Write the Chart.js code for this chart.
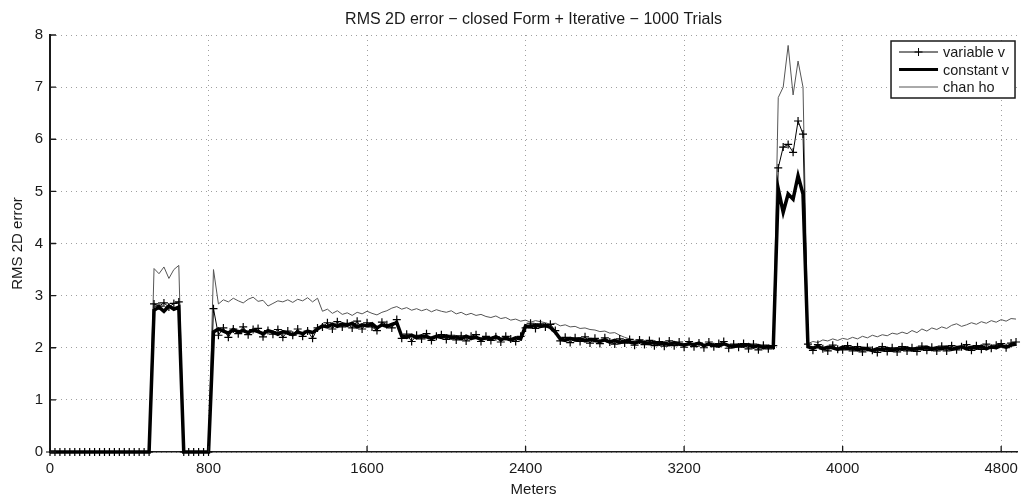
<!DOCTYPE html>
<html>
<head>
<meta charset="utf-8">
<title>RMS 2D error</title>
<script src="https://cdn.jsdelivr.net/npm/chart.js@4.4.1/dist/chart.umd.min.js"></script>
<style>
  html, body { margin: 0; padding: 0; background: #fff; }
  #wrap { width: 1026px; height: 500px; }
</style>
</head>
<body>
<div id="wrap"><canvas id="rmsChart" width="1026" height="500"></canvas></div>
<script>
// --- DATA (one sample every 25 m, 0 .. 4875 m) ---
const STEP = 25;
const xTicks = [0, 800, 1600, 2400, 3200, 4000, 4800];
const yTicks = [0, 1, 2, 3, 4, 5, 6, 7, 8];
const seriesNames = ['variable v', 'constant v', 'chan ho'];

const variableV = [
    0, 0, 0, 0, 0, 0, 0, 0, 0, 0, 0, 0, 0, 0, 0, 0, 0, 0, 0, 0,
    0, 2.84, 2.80, 2.86, 2.78, 2.85, 2.88, 0, 0, 0, 0, 0, 0, 2.75, 2.24, 2.38, 2.20, 2.36, 2.27, 2.40,
    2.25, 2.35, 2.37, 2.21, 2.33, 2.26, 2.35, 2.20, 2.32, 2.24, 2.36, 2.22, 2.32, 2.18, 2.38, 2.40, 2.48, 2.36, 2.50, 2.40,
    2.47, 2.38, 2.51, 2.36, 2.48, 2.40, 2.33, 2.49, 2.44, 2.38, 2.54, 2.18, 2.26, 2.12, 2.24, 2.17, 2.27, 2.14, 2.22, 2.25,
    2.16, 2.24, 2.15, 2.23, 2.13, 2.22, 2.25, 2.12, 2.22, 2.14, 2.21, 2.11, 2.22, 2.17, 2.12, 2.22, 2.38, 2.47, 2.37, 2.46,
    2.40, 2.45, 2.33, 2.13, 2.20, 2.10, 2.19, 2.12, 2.21, 2.09, 2.18, 2.08, 2.19, 2.11, 2.07, 2.17, 2.09, 2.16, 2.05, 2.15,
    2.06, 2.14, 2.04, 2.12, 2.03, 2.13, 2.04, 2.11, 2.01, 2.12, 2.02, 2.09, 2.00, 2.11, 2.02, 2.08, 2.12, 1.99, 2.07, 2.01,
    2.08, 1.98, 2.07, 1.96, 2.05, 1.98, 2.04, 5.45, 5.85, 5.90, 5.75, 6.35, 6.10, 2.07, 1.95, 2.06, 1.98, 1.94, 2.05, 1.97,
    1.96, 2.04, 1.94, 2.02, 1.92, 2.01, 1.95, 1.91, 2.02, 1.93, 2.00, 1.92, 2.02, 1.94, 2.00, 1.93, 2.03, 1.95, 2.01, 1.94,
    2.03, 1.94, 2.04, 1.96, 2.02, 2.06, 1.95, 2.04, 1.97, 2.07, 1.99, 2.05, 2.08, 2.00, 2.09, 2.11
];

const constantV = [
    0, 0, 0, 0, 0, 0, 0, 0, 0, 0, 0, 0, 0, 0, 0, 0, 0, 0, 0, 0,
    0, 2.72, 2.78, 2.70, 2.80, 2.74, 2.78, 0, 0, 0, 0, 0, 0, 2.30, 2.36, 2.32, 2.28, 2.35, 2.30, 2.33,
    2.29, 2.34, 2.31, 2.27, 2.33, 2.30, 2.26, 2.31, 2.28, 2.25, 2.30, 2.27, 2.32, 2.29, 2.36, 2.42, 2.40, 2.45, 2.41, 2.46,
    2.43, 2.47, 2.40, 2.44, 2.42, 2.46, 2.38, 2.44, 2.41, 2.45, 2.48, 2.22, 2.20, 2.24, 2.19, 2.23, 2.21, 2.18, 2.22, 2.20,
    2.23, 2.19, 2.21, 2.17, 2.22, 2.18, 2.20, 2.16, 2.19, 2.17, 2.21, 2.16, 2.18, 2.15, 2.19, 2.17, 2.42, 2.40, 2.44, 2.41,
    2.43, 2.39, 2.30, 2.17, 2.14, 2.18, 2.15, 2.17, 2.13, 2.16, 2.14, 2.12, 2.15, 2.11, 2.14, 2.10, 2.13, 2.11, 2.09, 2.12,
    2.10, 2.08, 2.11, 2.07, 2.09, 2.06, 2.10, 2.07, 2.05, 2.08, 2.06, 2.09, 2.04, 2.07, 2.05, 2.03, 2.08, 2.04, 2.02, 2.05,
    2.03, 2.06, 2.01, 2.04, 2.00, 2.03, 2.01, 5.05, 4.60, 4.95, 4.85, 5.30, 4.95, 2.02, 1.99, 2.03, 1.98, 2.01, 2.00, 1.97,
    2.01, 1.98, 2.00, 1.96, 1.99, 1.97, 1.95, 1.98, 1.96, 1.99, 1.95, 1.98, 1.97, 2.00, 1.96, 1.99, 1.98, 2.01, 1.97, 2.00,
    1.98, 2.01, 1.97, 2.00, 2.02, 1.98, 2.01, 1.99, 2.03, 1.98, 2.02, 2.00, 2.04, 2.01, 2.05, 2.07
];

const chanHo = [
    0, 0, 0, 0, 0, 0, 0, 0, 0, 0, 0, 0, 0, 0, 0, 0, 0, 0, 0, 0,
    0, 3.52, 3.42, 3.55, 3.33, 3.50, 3.58, 0, 0, 0, 0, 0, 0, 3.50, 2.84, 2.92, 2.88, 2.95, 2.90, 2.86,
    2.93, 2.97, 2.89, 2.91, 2.80, 2.85, 2.90, 2.88, 2.92, 2.87, 2.93, 2.90, 2.96, 2.88, 2.95, 2.70, 2.74, 2.66, 2.71, 2.64,
    2.67, 2.62, 2.68, 2.65, 2.70, 2.66, 2.63, 2.68, 2.71, 2.76, 2.79, 2.74, 2.77, 2.72, 2.75, 2.71, 2.74, 2.69, 2.73, 2.70,
    2.68, 2.71, 2.65, 2.68, 2.63, 2.66, 2.62, 2.64, 2.60, 2.58, 2.61, 2.56, 2.58, 2.53, 2.55, 2.51, 2.53, 2.49, 2.52, 2.50,
    2.48, 2.45, 2.47, 2.42, 2.44, 2.40, 2.41, 2.37, 2.38, 2.35, 2.34, 2.31, 2.32, 2.28, 2.29, 2.24, 2.20, 2.17, 2.14, 2.15,
    2.11, 2.09, 2.12, 2.08, 2.10, 2.07, 2.09, 2.06, 2.08, 2.05, 2.07, 2.08, 2.05, 2.06, 2.04, 2.05, 2.07, 2.03, 2.04, 2.05,
    2.04, 2.05, 2.02, 2.03, 2.01, 2.02, 2.02, 6.80, 7.00, 7.80, 6.85, 7.50, 7.00, 2.08, 2.12, 2.10, 2.15, 2.13, 2.17, 2.14,
    2.18, 2.16, 2.20, 2.17, 2.22, 2.19, 2.24, 2.21, 2.25, 2.23, 2.28, 2.26, 2.30, 2.27, 2.33, 2.29, 2.36, 2.32, 2.38, 2.35,
    2.40, 2.37, 2.43, 2.46, 2.41, 2.44, 2.48, 2.45, 2.50, 2.47, 2.52, 2.49, 2.54, 2.51, 2.56, 2.55
];

const meters = variableV.map((_, i) => i * STEP);
const toPoints = arr => arr.map((v, i) => ({ x: meters[i], y: v }));

const FONT = '"Liberation Sans", Arial, Helvetica, sans-serif';
const INK = '#1a1a1a';

Chart.defaults.font.family = FONT;
Chart.defaults.color = INK;

// --- MATLAB-ish inward ticks + boxed legend ---
const matlabFrame = {
    id: 'matlabFrame',
    afterDraw(chart) {
        const { ctx, chartArea: a, scales: { x, y } } = chart;
        ctx.save();
        ctx.strokeStyle = INK;
        ctx.lineWidth = 1.3;
        ctx.beginPath();
        xTicks.forEach(v => {
            const px = x.getPixelForValue(v);
            ctx.moveTo(px, a.bottom); ctx.lineTo(px, a.bottom - 6);
        });
        yTicks.forEach(v => {
            const py = y.getPixelForValue(v);
            ctx.moveTo(a.left, py); ctx.lineTo(a.left + 6, py);
        });
        ctx.stroke();

        // legend box
        const w = 124, h = 57;
        const bx = a.right - w - 2, by = a.top + 6;
        ctx.fillStyle = '#fff';
        ctx.fillRect(bx, by, w, h);
        ctx.lineWidth = 1.5;
        ctx.strokeStyle = INK;
        ctx.strokeRect(bx, by, w, h);

        const styles = [
            { width: 1, color: '#000', cross: true },
            { width: 3, color: '#000', cross: false },
            { width: 1, color: '#555', cross: false }
        ];
        ctx.font = '14.5px ' + FONT;
        ctx.textBaseline = 'middle';
        ctx.textAlign = 'left';
        seriesNames.forEach((name, i) => {
            const ry = by + 11 + i * 17.5;
            const s = styles[i];
            ctx.lineWidth = s.width;
            ctx.strokeStyle = s.color;
            ctx.beginPath();
            ctx.moveTo(bx + 8, ry); ctx.lineTo(bx + 47, ry);
            ctx.stroke();
            if (s.cross) {
                ctx.beginPath();
                ctx.moveTo(bx + 27.5, ry - 4); ctx.lineTo(bx + 27.5, ry + 4);
                ctx.moveTo(bx + 23.5, ry); ctx.lineTo(bx + 31.5, ry);
                ctx.stroke();
            }
            ctx.fillStyle = INK;
            ctx.fillText(name, bx + 52, ry + 1);
        });
        ctx.restore();
    }
};

new Chart(document.getElementById('rmsChart'), {
    type: 'line',
    data: {
        datasets: [
            {
                label: seriesNames[0],
                data: toPoints(variableV),
                borderColor: '#000',
                borderWidth: 1,
                pointStyle: 'cross',
                pointRadius: 4,
                pointBorderWidth: 1.2,
                pointBorderColor: '#000',
                clip: 4
            },
            {
                label: seriesNames[1],
                data: toPoints(constantV),
                borderColor: '#000',
                borderWidth: 3.5,
                pointRadius: 0,
                clip: 4
            },
            {
                label: seriesNames[2],
                data: toPoints(chanHo),
                borderColor: '#555',
                borderWidth: 1,
                pointRadius: 0,
                clip: 4
            }
        ]
    },
    options: {
        responsive: false,
        animation: false,
        devicePixelRatio: 1,
        layout: { padding: { left: 0, right: 6, top: 0, bottom: 0 } },
        plugins: {
            legend: { display: false },
            tooltip: { enabled: false },
            title: {
                display: true,
                text: 'RMS 2D error \u2212 closed Form + Iterative \u2212 1000 Trials',
                font: { size: 16, weight: 'normal' },
                color: INK,
                fullSize: false,
                padding: { top: 9.5, bottom: 6.3 }
            }
        },
        scales: {
            x: {
                type: 'linear',
                min: 0,
                max: 4880,
                afterBuildTicks: s => { s.ticks = xTicks.map(v => ({ value: v })); },
                afterFit: s => { s.height = 48; },
                ticks: {
                    font: { size: 15 }, color: INK, padding: 8, maxRotation: 0, autoSkip: false, includeBounds: false,
                    callback: v => String(v)
                },
                grid: { color: '#a0a0a0', lineWidth: 1, drawTicks: false },
                border: { display: true, color: INK, width: 1.5, dash: [1, 4] },
                title: { display: true, text: 'Meters', font: { size: 15 }, color: INK, padding: { top: 0, bottom: 1 } }
            },
            y: {
                type: 'linear',
                min: 0,
                max: 8,
                afterBuildTicks: s => { s.ticks = yTicks.map(v => ({ value: v })); },
                afterFit: s => { s.width = 50; },
                ticks: { font: { size: 15 }, color: INK, padding: 7, callback: v => String(v) },
                grid: { color: '#a0a0a0', lineWidth: 1, drawTicks: false },
                border: { display: true, color: INK, width: 2, dash: [1, 4] },
                title: { display: true, text: 'RMS 2D error', font: { size: 15 }, color: INK, padding: { top: 9, bottom: 0 } }
            }
        }
    },
    plugins: [matlabFrame]
});
</script>
</body>
</html>
